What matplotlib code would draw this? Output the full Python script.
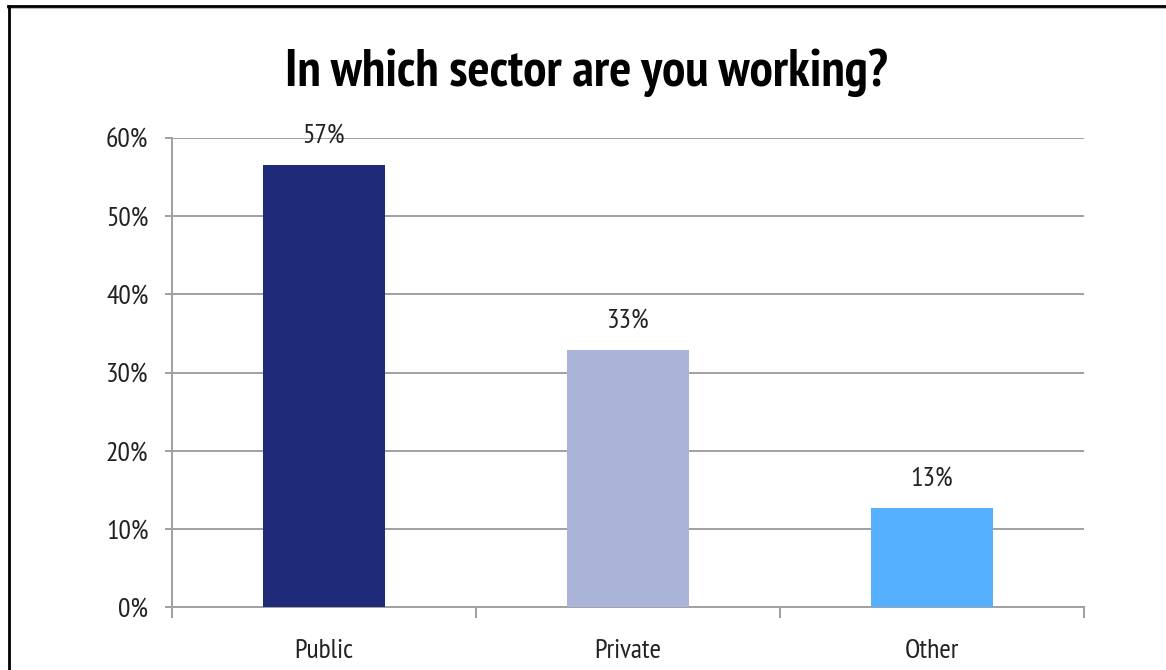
import matplotlib
matplotlib.use("Agg")
import matplotlib.pyplot as plt
from matplotlib.lines import Line2D

# Survey results: share of respondents by sector (percent)
categories = ["Public", "Private", "Other"]
shares = [56.6, 32.9, 12.7]
bar_colors = ["#1F2A78", "#A9B4D8", "#55B0FF"]
y_ticks = [0, 10, 20, 30, 40, 50, 60]
y_tick_labels = ["0%", "10%", "20%", "30%", "40%", "50%", "60%"]
title = "In which sector are you working?"

plt.rcParams["font.family"] = ["PT Sans Narrow", "DejaVu Sans"]

W, H = 1166, 670
fig = plt.figure(figsize=(W / 100, H / 100), dpi=100)
fig.patch.set_facecolor("white")

ax = fig.add_axes([172 / W, 1 - 607 / H, (1084 - 172) / W, (607 - 138) / H])

x = list(range(len(categories)))
bars = ax.bar(x, shares, width=0.4, color=bar_colors, zorder=3)

label_size = 20
text_color = "#222222"
for xi, v in zip(x, shares):
    ax.annotate(f"{v:.0f}%", (xi, v), xytext=(0, 16), textcoords="offset points",
                ha="center", va="baseline", fontsize=label_size, color=text_color)

grid_color = "#A0A0A0"
ax.set_xlim(-0.5, 2.5)
ax.set_ylim(0, 60)
ax.set_yticks(y_ticks)
ax.set_yticklabels(y_tick_labels, fontsize=label_size, color=text_color)
ax.yaxis.grid(True, color=grid_color, linewidth=1.4, zorder=0)
ax.set_xticks(x)
ax.set_xticklabels(categories, fontsize=label_size, color=text_color)
ax.set_xticks([-0.5, 0.5, 1.5, 2.5], minor=True)
ax.tick_params(axis="x", which="major", length=0, pad=23)
ax.tick_params(axis="x", which="minor", length=8, width=1.4, color=grid_color)
ax.tick_params(axis="y", length=5, width=1.4, color=grid_color, pad=12)

for side in ("top", "right"):
    ax.spines[side].set_visible(False)
for side in ("left", "bottom"):
    ax.spines[side].set_color(grid_color)
    ax.spines[side].set_linewidth(1.4)
ax.set_axisbelow(True)

fig.text(0.503, 1 - 86 / H, title, ha="center", va="baseline",
         fontsize=37.5, fontweight="bold", color="black")

# Outer frame: top and left edges with a faint shadow
fig.add_artist(Line2D([8 / W, 1.0], [1 - 8 / H, 1 - 8 / H], color="#BBBBBB", linewidth=1.5))
fig.add_artist(Line2D([8 / W, 1.0], [1 - 5.5 / H, 1 - 5.5 / H], color="black", linewidth=2))
fig.add_artist(Line2D([9 / W, 9 / W], [0.0, 1 - 5.5 / H], color="black", linewidth=2))

fig.savefig("out.png", dpi=100)
